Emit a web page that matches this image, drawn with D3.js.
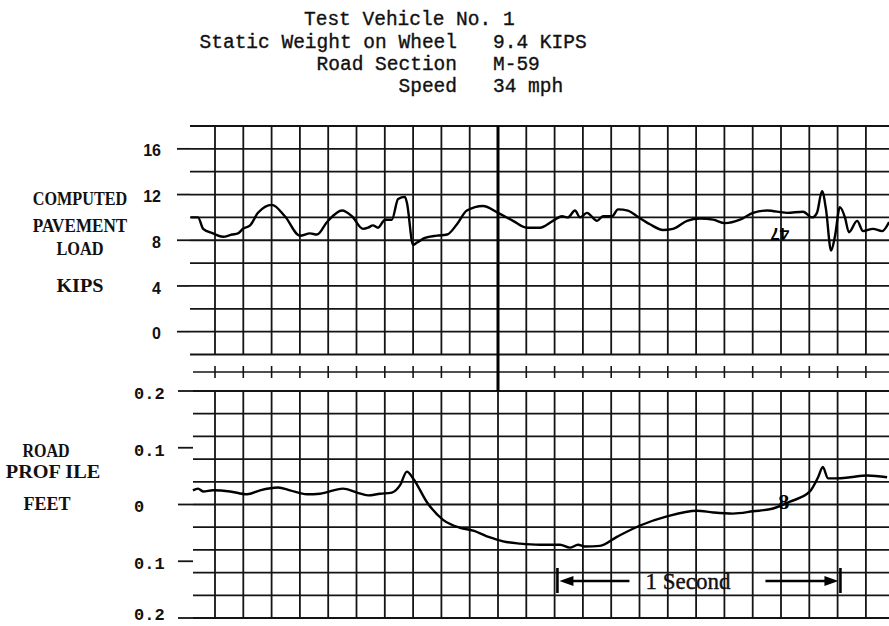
<!DOCTYPE html>
<html>
<head>
<meta charset="utf-8">
<script src="https://cdn.jsdelivr.net/npm/d3@7"></script>
<style>
  body{ margin:0; background:#fff; }
  svg{ display:block; }
  .head{ font-family:"Liberation Mono", monospace; font-size:19.5px; fill:#111; stroke:#111; stroke-width:0.35; }
  .side{ font-family:"Liberation Serif", serif; font-weight:bold; font-size:18px; fill:#111; }
  .tl{ font-family:"Liberation Sans", sans-serif; font-weight:bold; font-size:16px; fill:#111; }
  .bl{ font-family:"Liberation Mono", monospace; font-weight:bold; font-size:17px; fill:#111; }
</style>
</head>
<body>
<svg id="chart" width="889" height="626"></svg>
<script>
// header text
var headTitle = "Test Vehicle No. 1";
var headLabels = ["Static Weight on Wheel", "Road Section", "Speed"];
var headValues = ["9.4 KIPS", "M-59", "34 mph"];

// axis labels
var loadTitle = ["COMPUTED", "PAVEMENT", "LOAD", "KIPS"];
var profileTitle = ["ROAD", "PROF ILE", "FEET"];
var loadTicks = [16, 12, 8, 4, 0];
var loadTickLabels = ["16", "12", "8", "4", "0"];
var profileTicks = [0.2, 0.1, 0, -0.1, -0.2];
var profileTickLabels = ["0.2", "0.1", "0", "0.1", "0.2"];

// computed pavement load, kips (time in seconds)
var loadTime = [-0.086,-0.060,-0.042,-0.007,0.028,0.060,0.081,0.099,0.124,0.152,0.201,0.247,0.300,0.336,0.360,0.396,0.449,0.484,0.523,0.541,0.558,0.576,0.601,0.625,0.647,0.671,0.678,0.700,0.714,0.742,0.784,0.820,0.855,0.890,0.947,1.000,1.053,1.102,1.148,1.194,1.226,1.247,1.272,1.290,1.314,1.350,1.371,1.403,1.424,1.459,1.491,1.537,1.583,1.618,1.668,1.714,1.760,1.802,1.855,1.901,1.951,2.021,2.078,2.110,2.127,2.145,2.159,2.177,2.191,2.208,2.226,2.240,2.269,2.290,2.325,2.357,2.382];
var loadKips = [10.0,10.0,9.0,8.6,8.3,8.5,8.6,9.0,9.3,10.4,11.1,10.1,8.4,8.6,8.5,9.6,10.6,10.1,9.0,9.1,9.3,9.1,9.8,9.8,11.6,11.8,11.3,7.6,7.8,8.2,8.4,8.5,9.4,10.6,11.0,10.4,9.7,9.1,9.1,9.7,10.1,10.0,10.6,10.0,10.4,9.7,10.1,10.1,10.7,10.6,10.1,9.4,8.9,9.0,9.7,9.9,9.8,9.5,9.8,10.4,10.6,10.4,10.5,10.0,10.4,12.3,10.7,7.1,8.4,10.9,10.0,8.7,9.7,8.8,9.0,8.8,9.6];

// road profile, feet
var profTime = [-0.078,-0.060,-0.042,-0.007,0.053,0.113,0.159,0.223,0.265,0.325,0.371,0.452,0.502,0.541,0.583,0.625,0.654,0.678,0.700,0.749,0.806,0.866,0.912,0.972,1.018,1.078,1.148,1.219,1.254,1.283,1.307,1.360,1.420,1.502,1.597,1.703,1.760,1.830,1.901,1.972,2.032,2.102,2.131,2.148,2.166,2.198,2.244,2.304,2.375];
var profFeet = [0.025,0.028,0.023,0.025,0.023,0.018,0.025,0.030,0.025,0.018,0.019,0.028,0.021,0.016,0.019,0.021,0.034,0.058,0.046,0.004,-0.027,-0.041,-0.046,-0.058,-0.065,-0.069,-0.071,-0.071,-0.076,-0.071,-0.074,-0.073,-0.057,-0.037,-0.021,-0.011,-0.014,-0.016,-0.012,-0.007,0.005,0.023,0.048,0.066,0.046,0.046,0.048,0.051,0.048];

// one-second marker and handwritten notes
var secondMark = [1.21, 2.21];
var secondText = "1 Second";
var noteLoad = {t: 1.996, v: 8.55, text: "47"};
var noteProf = {t: 2.01, v: 0.006, text: "8"};

var svg = d3.select("#chart");
svg.append("rect").attr("width", 889).attr("height", 626).attr("fill", "#fff");

var x = d3.scaleLinear().domain([0, 1]).range([215, 498]);
var yLoad = d3.scaleLinear().domain([-2, 18]).range([354.5, 126]);
var yProf = d3.scaleLinear().domain([-0.2, 0.2]).range([618, 391]);

var vTimes = d3.range(0, 24).map(function(i){ return i / 10; });
var ink = "#141414";

// header
svg.append("text").attr("class", "head").attr("x", 304).attr("y", 25).text(headTitle);
headLabels.forEach(function(s, i){
  svg.append("text").attr("class", "head").attr("x", 457).attr("y", 48 + i * 22)
    .attr("text-anchor", "end").text(s);
  svg.append("text").attr("class", "head").attr("x", 493).attr("y", 48 + i * 22).text(headValues[i]);
});

// ---- top grid
var g1 = svg.append("g").attr("stroke", ink).attr("stroke-width", 1.8);
g1.selectAll(".h").data(d3.range(-2, 19, 2)).enter().append("line")
  .attr("x1", 190).attr("x2", 889)
  .attr("y1", function(d){ return yLoad(d); }).attr("y2", function(d){ return yLoad(d); });
g1.selectAll(".v").data(vTimes).enter().append("line")
  .attr("x1", function(d){ return x(d); }).attr("x2", function(d){ return x(d); })
  .attr("y1", yLoad(18)).attr("y2", yLoad(-2));
g1.selectAll(".tk").data(loadTicks).enter().append("line")
  .attr("x1", 177).attr("x2", 190)
  .attr("y1", function(d){ return yLoad(d); }).attr("y2", function(d){ return yLoad(d); });

// ---- tick strip between panels
var g2 = svg.append("g").attr("stroke", ink).attr("stroke-width", 1.6);
g2.append("line").attr("x1", 193).attr("x2", 889).attr("y1", 372).attr("y2", 372);
g2.selectAll(".st").data(vTimes).enter().append("line")
  .attr("x1", function(d){ return x(d); }).attr("x2", function(d){ return x(d); })
  .attr("y1", 366).attr("y2", 378);

// ---- bottom grid
var g3 = svg.append("g").attr("stroke", ink).attr("stroke-width", 1.8);
g3.selectAll(".h").data(d3.range(11).map(function(i){ return -0.2 + i * 0.04; })).enter().append("line")
  .attr("x1", 193).attr("x2", 889)
  .attr("y1", function(d){ return yProf(d); }).attr("y2", function(d){ return yProf(d); });
g3.selectAll(".v").data(vTimes).enter().append("line")
  .attr("x1", function(d){ return x(d); }).attr("x2", function(d){ return x(d); })
  .attr("y1", yProf(0.2)).attr("y2", yProf(-0.2));
g3.selectAll(".tk").data(profileTicks).enter().append("line")
  .attr("x1", 178).attr("x2", 193)
  .attr("y1", function(d){ return yProf(d); }).attr("y2", function(d){ return yProf(d); });

// heavy one-second line
svg.append("line").attr("stroke", "#000").attr("stroke-width", 3)
  .attr("x1", x(1)).attr("x2", x(1)).attr("y1", yLoad(18)).attr("y2", yProf(0.2));

// tick labels
svg.selectAll(".tl").data(loadTicks).enter().append("text").attr("class", "tl")
  .attr("x", 161).attr("y", function(d){ return yLoad(d) + 2; })
  .attr("dy", "0.35em").attr("text-anchor", "end")
  .text(function(d, i){ return loadTickLabels[i]; });
svg.selectAll(".bl").data(profileTicks).enter().append("text").attr("class", "bl")
  .attr("x", 134).attr("y", function(d){ return Math.min(yProf(d) + 2, 614); })
  .attr("dy", "0.35em")
  .text(function(d, i){ return profileTickLabels[i]; });

// side titles
var loadY = [205, 232, 255, 292];
loadTitle.forEach(function(s, i){
  svg.append("text").attr("class", "side").attr("x", 80).attr("y", loadY[i])
    .attr("text-anchor", "middle").attr("textLength", s.length * 11.8)
    .attr("lengthAdjust", "spacingAndGlyphs").text(s);
});
var profY = [457, 478, 510];
var profX = [46, 53, 47];
profileTitle.forEach(function(s, i){
  svg.append("text").attr("class", "side").attr("x", profX[i]).attr("y", profY[i])
    .attr("text-anchor", "middle").attr("textLength", s.length * 11.8)
    .attr("lengthAdjust", "spacingAndGlyphs").text(s);
});

// traces
var loadLine = d3.line().curve(d3.curveMonotoneX)
  .x(function(d, i){ return x(loadTime[i]); })
  .y(function(d){ return yLoad(d); });
svg.append("path").attr("d", loadLine(loadKips))
  .attr("fill", "none").attr("stroke", "#000").attr("stroke-width", 2.4).attr("stroke-linejoin", "round");

var profLine = d3.line().curve(d3.curveMonotoneX)
  .x(function(d, i){ return x(profTime[i]); })
  .y(function(d){ return yProf(d); });
svg.append("path").attr("d", profLine(profFeet))
  .attr("fill", "none").attr("stroke", "#000").attr("stroke-width", 2.4).attr("stroke-linejoin", "round");

// handwritten notes
svg.append("text").attr("transform", "translate(" + x(noteLoad.t) + "," + yLoad(noteLoad.v) + ") rotate(180)")
  .attr("text-anchor", "middle").attr("dy", "0.35em")
  .style("font-family", "Liberation Sans, sans-serif").style("font-size", "17px").style("font-weight", "bold")
  .text(noteLoad.text);
svg.append("text").attr("x", x(noteProf.t)).attr("y", yProf(noteProf.v))
  .attr("text-anchor", "middle").attr("dy", "0.35em")
  .style("font-family", "Liberation Serif, serif").style("font-size", "22px").style("font-weight", "bold")
  .text(noteProf.text);

// one second marker
var ax0 = x(secondMark[0]), ax1 = x(secondMark[1]), ay = 581;
var g4 = svg.append("g").attr("stroke", "#000").attr("stroke-width", 2.6);
g4.append("line").attr("x1", ax0).attr("x2", ax0).attr("y1", 568).attr("y2", 593);
g4.append("line").attr("x1", ax1).attr("x2", ax1).attr("y1", 568).attr("y2", 593);
g4.append("line").attr("x1", ax0 + 10).attr("x2", ax0 + 72).attr("y1", ay).attr("y2", ay);
g4.append("line").attr("x1", ax1 - 75).attr("x2", ax1 - 12).attr("y1", ay).attr("y2", ay);
svg.append("path").attr("fill", "#000")
  .attr("d", "M" + (ax0 + 2) + "," + ay + " L" + (ax0 + 16) + "," + (ay - 5) + " L" + (ax0 + 16) + "," + (ay + 5) + "Z");
svg.append("path").attr("fill", "#000")
  .attr("d", "M" + (ax1 - 2) + "," + ay + " L" + (ax1 - 16) + "," + (ay - 5) + " L" + (ax1 - 16) + "," + (ay + 5) + "Z");
svg.append("text").attr("x", ax0 + 88).attr("y", 589)
  .style("font-family", "Liberation Serif, serif").style("font-size", "23px").style("fill", "#111")
  .style("stroke", "#111").style("stroke-width", "0.4")
  .text(secondText);
</script>
</body>
</html>
